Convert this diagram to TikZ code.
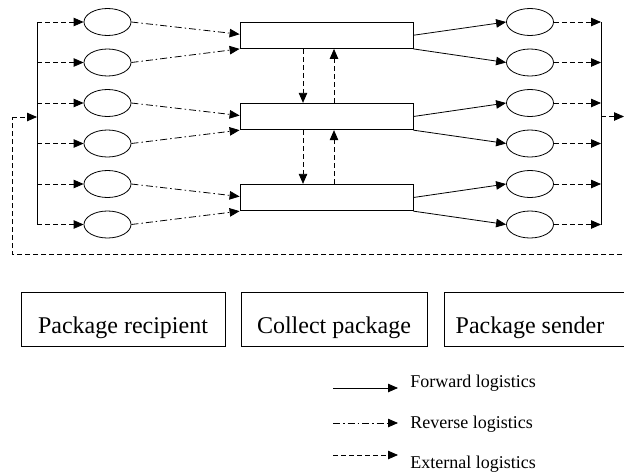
\documentclass[tikz,border=0pt]{standalone}
\usepackage{fontspec}
\setmainfont{Liberation Serif}
\usetikzlibrary{arrows.meta,shapes.geometric,calc}
\begin{document}
\begin{tikzpicture}[x=1pt,y=-1pt,line width=0.8pt,
  tip/.style={-{Triangle[length=10pt,width=8.5pt]}},
  ext/.style={tip,dash pattern=on 5pt off 3pt},
  rev/.style={tip,dash pattern=on 7pt off 3pt on 1.5pt off 3pt},
  fwd/.style={tip},
  oval/.style={draw,ellipse,minimum width=47pt,minimum height=27pt,inner sep=0pt},
  stage/.style={draw,rectangle,minimum width=173pt,minimum height=26.5pt,inner sep=0pt},
  party/.style={draw,rectangle,inner sep=0pt,text height=41pt,text depth=13pt,font=\fontsize{24}{28}\selectfont},
  legtext/.style={anchor=base west,inner sep=0pt,font=\fontsize{18}{21}\selectfont}]
\useasboundingbox (0,0) rectangle (624,474);
% left and right ellipses
\foreach \i/\y in {1/22,2/62.5,3/103,4/143.5,5/184,6/224.5}{
  \node[oval] (le\i) at (107.5,\y) {};
  \node[oval] (re\i) at (530,\y) {};
  \coordinate (lb\i) at (37,\y);
  \coordinate (rb\i) at (601,\y);
}
% stage rectangles
\node[stage] (r1) at (326.5,35.25) {};
\node[stage] (r2) at (326.5,116.5) {};
\node[stage] (r3) at (326.5,197.5) {};
% bars
\draw (lb1) -- (lb6);
\draw (rb1) -- (rb6);
% bar to left ellipses, right ellipses to bar
\foreach \i in {1,...,6}{
  \draw[ext] (lb\i) -- (le\i.west);
  \draw[ext] (re\i.east) -- (rb\i);
}
% reverse flows
\foreach \k/\a/\b in {1/1/2,2/3/4,3/5/6}{
  \draw[rev] (le\a.east) -- ([yshift=1pt]r\k.west);
  \draw[rev] (le\b.east) -- (r\k.south west);
  \draw[fwd] (r\k.east) -- (re\a.west);
  \draw[fwd] (r\k.south east) -- (re\b.west);
}
% vertical exchanges
\draw[ext] ([xshift=-23.5pt]r1.south) -- ([xshift=-23.5pt]r2.north);
\draw[ext] ([xshift=7.5pt]r2.north) -- ([xshift=7.5pt]r1.south);
\draw[ext] ([xshift=-23.5pt]r2.south) -- ([xshift=-23.5pt]r3.north);
\draw[ext] ([xshift=7.5pt]r3.north) -- ([xshift=7.5pt]r2.south);
% external loop
\coordinate (rbm) at (601,116.5);
\coordinate (rout) at (624,116.5);
\coordinate (lbm) at (37,117);
\coordinate (lc1) at (12,117);
\coordinate (lc2) at (12,254);
\coordinate (rc2) at (630,254);
\draw[ext] (rbm) -- (rout);
\draw[dash pattern=on 5pt off 3pt] (rc2) -- (lc2) -- (lc1);
\draw[ext] (lc1) -- (lbm);
% parties
\node[party,minimum width=204pt] (p1) at (123,319) {Package recipient};
\node[party,minimum width=186pt] (p2) at (334,319) {Collect package};
\node[party,minimum width=190pt] (p3) at (539,319) {\hspace*{-18pt}Package sender};
% legend
\coordinate (f1) at (333,388); \coordinate (f2) at (398,388);
\coordinate (v1) at (333,423); \coordinate (v2) at (398,423);
\coordinate (e1) at (333,455); \coordinate (e2) at (398,455);
\draw[fwd] (f1) -- (f2);
\draw[rev] (v1) -- (v2);
\draw[ext] (e1) -- (e2);
\node[legtext] (lf) at (410,387) {Forward logistics};
\node[legtext] (lv) at (410,428) {Reverse logistics};
\node[legtext] (le) at (410,468) {External logistics};
\end{tikzpicture}
\end{document}
